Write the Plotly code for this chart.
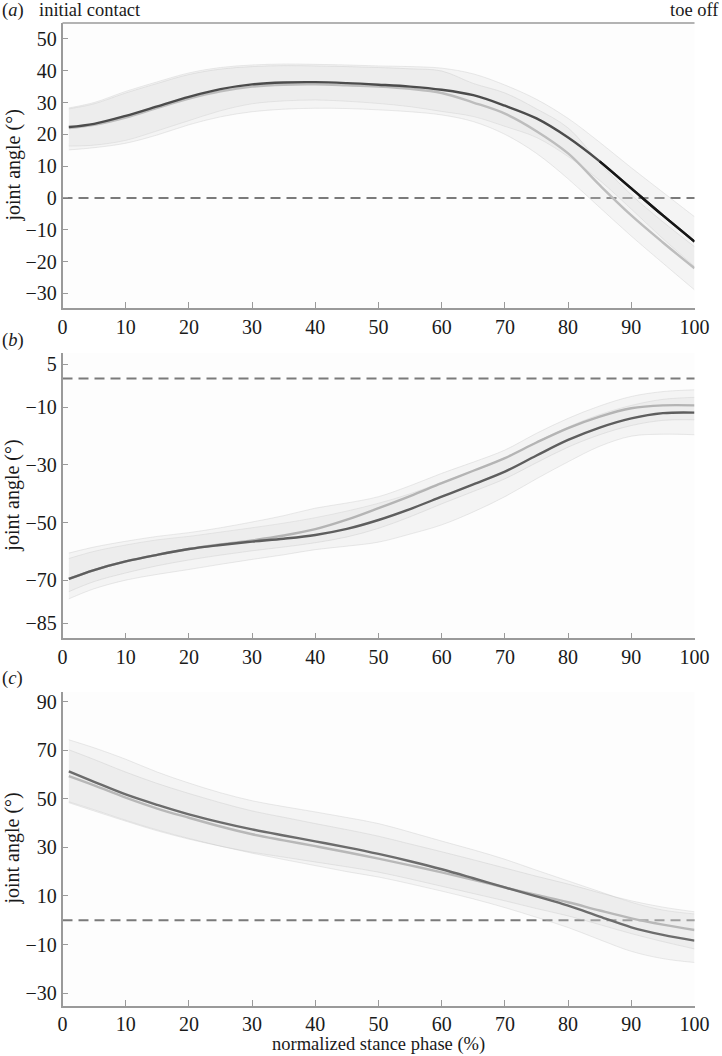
import plotly.graph_objects as go

# ---------------- data ----------------
stance = [1, 5, 10, 15, 20, 25, 30, 35, 40, 45, 50, 55, 60, 65, 70, 75, 80, 85, 90, 95, 100]
x_ticks = [0, 10, 20, 30, 40, 50, 60, 70, 80, 90, 100]
zero_level = 0

# panel (a)
a_dark = [22.3, 23.3, 25.8, 28.8, 31.8, 34.2, 35.7, 36.3, 36.4, 36.1, 35.6, 35.0, 34.0, 32.3, 29.0, 25.0, 19.0, 11.5, 3.0, -5.5, -13.7]
a_gray = [22.0, 23.0, 25.3, 28.3, 31.2, 33.5, 35.0, 35.6, 35.7, 35.4, 35.0, 34.3, 33.0, 30.0, 26.5, 21.0, 14.0, 4.0, -5.5, -14.0, -22.1]
a_dark_upper = [28.3, 30.0, 33.5, 36.5, 39.3, 41.0, 41.8, 42.1, 42.0, 41.8, 41.5, 41.3, 40.8, 39.0, 35.5, 31.0, 25.0, 17.5, 9.5, 1.8, -5.9]
a_dark_lower = [16.3, 16.6, 18.1, 21.1, 24.3, 27.4, 29.6, 30.5, 30.8, 30.4, 29.7, 28.7, 27.2, 25.6, 22.5, 19.0, 13.0, 5.5, -3.5, -12.8, -21.5]
a_gray_upper = [28.0, 29.6, 33.0, 36.0, 38.8, 40.5, 41.3, 41.6, 41.5, 41.3, 41.0, 40.6, 39.9, 36.0, 33.0, 28.0, 22.0, 11.0, 1.0, -7.5, -15.3]
a_gray_lower = [15.1, 15.8, 17.2, 19.8, 23.0, 25.5, 27.1, 27.9, 28.2, 28.1, 27.7, 27.1, 26.1, 24.0, 20.0, 14.0, 6.0, -3.0, -12.0, -20.5, -28.9]
a_yticks = [-30, -20, -10, 0, 10, 20, 30, 40, 50]

# panel (b)
b_dark = [-69.6, -66.5, -63.5, -61.2, -59.2, -57.8, -56.6, -55.6, -54.3, -52.2, -49.1, -45.3, -41.0, -36.7, -32.3, -26.7, -21.3, -17.0, -13.8, -12.0, -11.8]
b_gray = [-69.6, -66.5, -63.5, -61.2, -59.2, -57.6, -56.2, -54.5, -52.3, -49.0, -45.0, -40.8, -36.3, -32.0, -27.6, -22.2, -17.2, -13.2, -10.3, -9.3, -9.3]
b_dark_upper = [-62.5, -60.0, -57.8, -56.0, -54.8, -53.3, -51.8, -50.2, -48.3, -46.0, -43.3, -40.0, -36.0, -32.0, -27.5, -22.0, -16.8, -12.5, -9.3, -7.2, -6.5]
b_dark_lower = [-76.5, -73.0, -70.0, -68.0, -66.3, -64.5, -62.8, -61.2, -59.4, -58.2, -56.8, -54.0, -50.8, -46.3, -41.0, -34.8, -28.9, -23.5, -20.0, -19.3, -19.5]
b_gray_upper = [-60.6, -58.5, -56.5, -54.8, -53.5, -51.8, -49.8, -47.6, -45.0, -43.2, -41.0, -37.2, -32.9, -29.0, -24.8, -19.0, -13.8, -9.5, -6.2, -4.5, -3.9]
b_gray_lower = [-74.0, -70.5, -67.5, -65.0, -63.0, -61.3, -59.8, -58.5, -57.0, -55.0, -52.0, -48.0, -43.5, -39.2, -34.8, -29.2, -23.8, -19.5, -16.3, -14.5, -14.3]
b_yticks = [5, -10, -30, -50, -70, -85]

# panel (c)
c_dark = [61.3, 57.0, 51.8, 47.5, 43.6, 40.3, 37.4, 34.9, 32.5, 30.0, 27.3, 24.3, 21.0, 17.3, 13.5, 9.8, 6.0, 1.5, -2.9, -6.0, -8.4]
c_gray = [59.3, 55.5, 50.5, 46.0, 42.2, 38.6, 35.4, 32.9, 30.5, 28.0, 25.4, 22.6, 19.7, 16.6, 13.5, 10.4, 7.4, 4.0, 0.8, -1.8, -4.0]
c_dark_upper = [74.3, 71.0, 66.3, 61.0, 56.5, 52.5, 49.2, 46.8, 44.6, 42.3, 39.8, 36.3, 32.6, 29.0, 25.1, 20.6, 16.2, 11.8, 7.4, 4.2, 2.6]
c_dark_lower = [48.8, 45.5, 41.2, 37.2, 33.7, 30.5, 27.6, 25.0, 22.5, 20.0, 17.8, 15.0, 12.0, 8.8, 5.2, 1.2, -3.0, -8.0, -12.8, -15.8, -17.4]
c_gray_upper = [70.2, 66.2, 61.0, 56.3, 52.2, 48.4, 45.0, 42.4, 39.8, 37.3, 34.6, 31.4, 28.2, 24.9, 21.5, 18.1, 14.9, 11.3, 8.0, 5.4, 3.5]
c_gray_lower = [48.4, 45.0, 40.8, 36.8, 33.4, 30.5, 28.0, 26.0, 24.0, 22.0, 19.8, 17.0, 14.0, 11.0, 8.0, 4.8, 1.8, -1.8, -5.5, -8.8, -11.8]
c_yticks = [-30, -10, 10, 30, 50, 70, 90]

# ---------------- styling ----------------
W, H = 722, 1056
FONT = "Liberation Serif, Times New Roman, serif"
TICK_SIZE = 20
TEXT_SIZE = 18.5
YTITLE_SIZE = 20
AXIS_COLOR = "#9a9a9a"
BAND_FILL = "rgba(215,215,215,0.23)"
BAND_EDGE = "rgba(190,190,190,0.3)"

x_left, x_right = 62.5, 694.5
panels = [
    dict(top=23, bottom=308, yr=[-34.6, 55.0], ticks=a_yticks,
         dark=a_dark, gray=a_gray, du=a_dark_upper, dl=a_dark_lower,
         gu=a_gray_upper, gl=a_gray_lower, dc="#4c4c4c", gc="#bdbdbd", label="a"),
    dict(top=353, bottom=638.3, yr=[-90.2, 8.9], ticks=b_yticks,
         dark=b_dark, gray=b_gray, du=b_dark_upper, dl=b_dark_lower,
         gu=b_gray_upper, gl=b_gray_lower, dc="#5e5e5e", gc="#b4b4b4", label="b"),
    dict(top=691.7, bottom=1005.5, yr=[-35.1, 94.1], ticks=c_yticks,
         dark=c_dark, gray=c_gray, du=c_dark_upper, dl=c_dark_lower,
         gu=c_gray_upper, gl=c_gray_lower, dc="#6c6c6c", gc="#b8b8b8", label="c"),
]

fig = go.Figure()
layout = dict(
    width=W, height=H,
    margin=dict(l=0, r=0, t=0, b=0),
    paper_bgcolor="white", plot_bgcolor="#fdfdfd",
    showlegend=False,
    font=dict(family=FONT, size=TEXT_SIZE, color="#1a1a1a"),
    annotations=[], shapes=[],
)

for i, p in enumerate(panels, start=1):
    xa = "x" if i == 1 else f"x{i}"
    ya = "y" if i == 1 else f"y{i}"
    xkey = "xaxis" if i == 1 else f"xaxis{i}"
    ykey = "yaxis" if i == 1 else f"yaxis{i}"

    layout[xkey] = dict(
        domain=[x_left / W, x_right / W], range=[0, 100], anchor=ya,
        tickvals=x_ticks, ticks="inside", ticklen=6, tickwidth=1.3, tickcolor=AXIS_COLOR,
        showline=True, linecolor=AXIS_COLOR, linewidth=1.6, showgrid=False, zeroline=False,
        tickfont=dict(family=FONT, size=TICK_SIZE, color="#1a1a1a"), automargin=False,
    )
    layout[ykey] = dict(
        domain=[1 - p["bottom"] / H, 1 - p["top"] / H], range=p["yr"], anchor=xa,
        tickvals=p["ticks"], ticktext=[str(t).replace("-", "\u2212") for t in p["ticks"]],
        ticks="inside", ticklen=6, tickwidth=1.3, tickcolor=AXIS_COLOR,
        showline=True, linecolor=AXIS_COLOR, linewidth=1.6, showgrid=False, zeroline=False,
        tickfont=dict(family=FONT, size=TICK_SIZE, color="#1a1a1a"), automargin=False,
    )

    # zero reference (drawn below traces so the bands veil it)
    layout["shapes"].append(dict(
        type="line", xref=f"{xa} domain", yref=ya, x0=0, x1=1, y0=zero_level, y1=zero_level,
        line=dict(color="#7a7a7a", width=2, dash="10px,6px"), layer="below"))

    # bands
    for up, lo in ((p["du"], p["dl"]), (p["gu"], p["gl"])):
        fig.add_trace(go.Scatter(x=stance, y=up, mode="lines", xaxis=xa, yaxis=ya,
                                 line=dict(color=BAND_EDGE, width=1, shape="spline"),
                                 hoverinfo="skip"))
        fig.add_trace(go.Scatter(x=stance, y=lo, mode="lines", xaxis=xa, yaxis=ya,
                                 line=dict(color=BAND_EDGE, width=1, shape="spline"),
                                 fill="tonexty", fillcolor=BAND_FILL, hoverinfo="skip"))
    # means
    fig.add_trace(go.Scatter(x=stance, y=p["gray"], mode="lines", xaxis=xa, yaxis=ya,
                             line=dict(color=p["gc"], width=2.4, shape="spline")))
    fig.add_trace(go.Scatter(x=stance, y=p["dark"], mode="lines", xaxis=xa, yaxis=ya,
                             line=dict(color=p["dc"], width=2.4, shape="spline")))
    if i == 1:
        k = stance.index(85)
        fig.add_trace(go.Scatter(x=stance[k:], y=a_dark[k:], mode="lines", xaxis=xa, yaxis=ya,
                                 line=dict(color="#161616", width=2.4, shape="spline")))

    # panel letter
    layout["annotations"].append(dict(
        text=f"(<i>{p['label']}</i>)", xref="paper", yref="paper",
        x=0 / W, y=1 - (p["top"] - 13) / H, xanchor="left", yanchor="middle",
        showarrow=False, font=dict(family=FONT, size=TEXT_SIZE, color="#1a1a1a")))
    # y title
    layout["annotations"].append(dict(
        text="joint angle (°)", xref="paper", yref="paper", textangle=-90,
        x=13 / W, y=1 - (p["top"] + p["bottom"]) / 2 / H, xanchor="center", yanchor="middle",
        showarrow=False, font=dict(family=FONT, size=YTITLE_SIZE, color="#1a1a1a")))

# top border of panel (a)
layout["shapes"].append(dict(type="line", xref="x domain", yref="y domain", x0=0, x1=1, y0=1, y1=1,
                             line=dict(color=AXIS_COLOR, width=1.6)))

layout["annotations"] += [
    dict(text="initial contact", xref="paper", yref="paper", x=37 / W, y=1 - 10 / H,
         xanchor="left", yanchor="middle", showarrow=False),
    dict(text="toe off", xref="paper", yref="paper", x=721 / W, y=1 - 10 / H,
         xanchor="right", yanchor="middle", showarrow=False),
    dict(text="normalized stance phase (%)", xref="paper", yref="paper",
         x=(x_left + x_right) / 2 / W, y=0,
         xanchor="center", yanchor="bottom", showarrow=False, borderpad=0),
]

fig.update_layout(**layout)
fig.write_html(
    "out.html",
    config={"displayModeBar": False},
    post_script="document.body.style.margin='0';document.body.style.overflow='hidden';",
)
